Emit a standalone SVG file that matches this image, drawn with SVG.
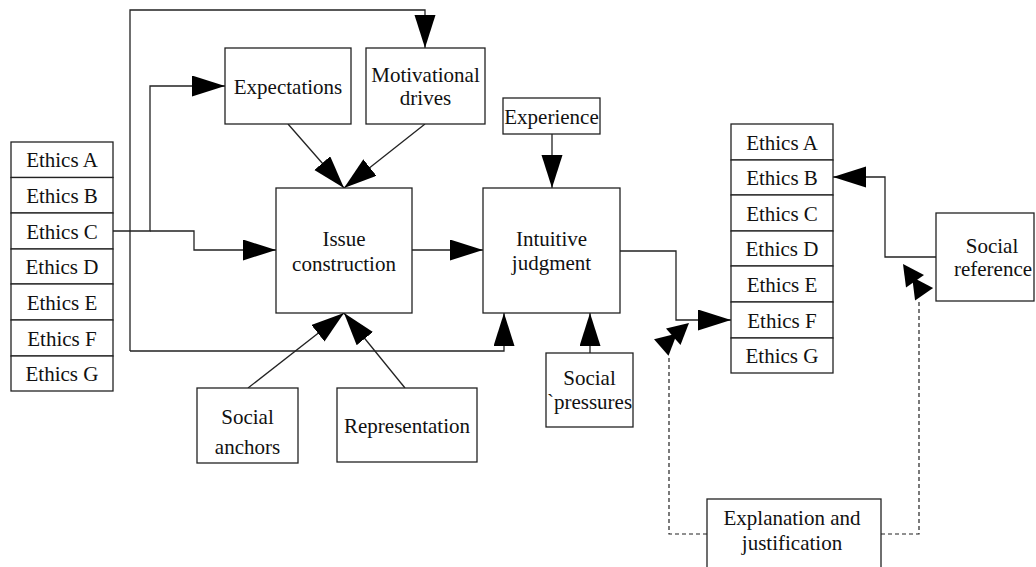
<svg xmlns="http://www.w3.org/2000/svg" width="1036" height="567" viewBox="0 0 1036 567">
<style>
.box{fill:#fff;stroke:#222;stroke-width:1.3}
.ln{fill:none;stroke:#222;stroke-width:1.3}
.dash{fill:none;stroke:#222;stroke-width:1.2;stroke-dasharray:4 3}
.ah{fill:#000;stroke:none}
text{font-family:"Liberation Serif","Times New Roman",serif;font-size:21px;fill:#111;text-anchor:middle}
</style>
<defs>
<marker id="arr" markerUnits="userSpaceOnUse" markerWidth="34" markerHeight="22" refX="33" refY="10.5" orient="auto">
<path d="M0,0 L33,10.5 L0,21 z" fill="#000"/>
</marker>
</defs>
<rect width="1036" height="567" fill="#fff"/>

<g id="connectors">
<path class="ln" d="M130,351 V10 H425 V48" marker-end="url(#arr)"/>
<path class="ln" d="M130,351 H504 V313" marker-end="url(#arr)"/>
<path class="ln" d="M113,231 H150 V86 H225" marker-end="url(#arr)"/>
<path class="ln" d="M150,231 H194 V250 H276" marker-end="url(#arr)"/>
<path class="ln" d="M412,250 H483" marker-end="url(#arr)"/>
<path class="ln" d="M288,124 L344,188" marker-end="url(#arr)"/>
<path class="ln" d="M425,124 L344,188" marker-end="url(#arr)"/>
<path class="ln" d="M248,388 L344,313" marker-end="url(#arr)"/>
<path class="ln" d="M405,388 L344,313" marker-end="url(#arr)"/>
<path class="ln" d="M552,134 V188" marker-end="url(#arr)"/>
<path class="ln" d="M590,353 V313" marker-end="url(#arr)"/>
<path class="ln" d="M620,251 H676 V320 H731" marker-end="url(#arr)"/>
<path class="ln" d="M936,257 H885 V177 H833" marker-end="url(#arr)"/>
<path class="dash" d="M707,534 H669 V358"/>
<path class="dash" d="M881,534 H919 V301"/>
<polygon class="ah" points="689,323 680.5,345.1 666,328.6"/>
<polygon class="ah" points="677,333.6 668.5,355.7 654,339.2"/>
<polygon class="ah" points="903,264 924,275 906,287.5"/>
<polygon class="ah" points="912.1,277.1 933.1,288.1 915.1,300.6"/>
</g>

<g id="ethics-left">
<rect class="box" x="11" y="142" width="102" height="35.5"/>
<rect class="box" x="11" y="177.5" width="102" height="35.5"/>
<rect class="box" x="11" y="213" width="102" height="36"/>
<rect class="box" x="11" y="249" width="102" height="35"/>
<rect class="box" x="11" y="284" width="102" height="36"/>
<rect class="box" x="11" y="320" width="102" height="36"/>
<rect class="box" x="11" y="356" width="102" height="35"/>
<text x="62" y="167">Ethics A</text>
<text x="62" y="203">Ethics B</text>
<text x="62" y="238.5">Ethics C</text>
<text x="62" y="274">Ethics D</text>
<text x="62" y="309.5">Ethics E</text>
<text x="62" y="345.5">Ethics F</text>
<text x="62" y="381">Ethics G</text>
</g>

<g id="expectations">
<rect class="box" x="225" y="48" width="126" height="76"/>
<text x="288" y="93.5">Expectations</text>
</g>

<g id="motivational-drives">
<rect class="box" x="366" y="48" width="119" height="76"/>
<text x="425.5" y="81.5">Motivational</text>
<text x="425.5" y="105">drives</text>
</g>

<g id="issue-construction">
<rect class="box" x="276" y="188" width="136" height="125"/>
<text x="344" y="245.5">Issue</text>
<text x="344" y="270.5">construction</text>
</g>

<g id="experience">
<rect class="box" x="503" y="98" width="97" height="36"/>
<text x="551.5" y="124">Experience</text>
</g>

<g id="intuitive-judgment">
<rect class="box" x="483" y="188" width="137" height="125"/>
<text x="551.5" y="245.5">Intuitive</text>
<text x="551.5" y="270">judgment</text>
</g>

<g id="social-anchors">
<rect class="box" x="197" y="388" width="101" height="75"/>
<text x="247.5" y="424">Social</text>
<text x="247.5" y="454">anchors</text>
</g>

<g id="representation">
<rect class="box" x="337" y="388" width="140" height="74"/>
<text x="407" y="433">Representation</text>
</g>

<g id="social-pressures">
<rect class="box" x="546" y="353" width="87" height="74"/>
<text x="589.5" y="385">Social</text>
<text x="589.5" y="409">`pressures</text>
</g>

<g id="ethics-right">
<rect class="box" x="731" y="124" width="102" height="36"/>
<rect class="box" x="731" y="160" width="102" height="35"/>
<rect class="box" x="731" y="195" width="102" height="36"/>
<rect class="box" x="731" y="231" width="102" height="35"/>
<rect class="box" x="731" y="266" width="102" height="36"/>
<rect class="box" x="731" y="302" width="102" height="36"/>
<rect class="box" x="731" y="338" width="102" height="35"/>
<text x="782" y="149.5">Ethics A</text>
<text x="782" y="185">Ethics B</text>
<text x="782" y="220.5">Ethics C</text>
<text x="782" y="256">Ethics D</text>
<text x="782" y="291.5">Ethics E</text>
<text x="782" y="327.5">Ethics F</text>
<text x="782" y="363">Ethics G</text>
</g>

<g id="social-reference">
<rect class="box" x="936" y="213" width="98" height="88"/>
<text x="992" y="252.5">Social</text>
<text x="993" y="276">reference</text>
</g>

<g id="explanation-justification">
<rect class="box" x="707" y="499" width="174" height="80"/>
<text x="792" y="525">Explanation and</text>
<text x="792" y="550">justification</text>
</g>
</svg>
